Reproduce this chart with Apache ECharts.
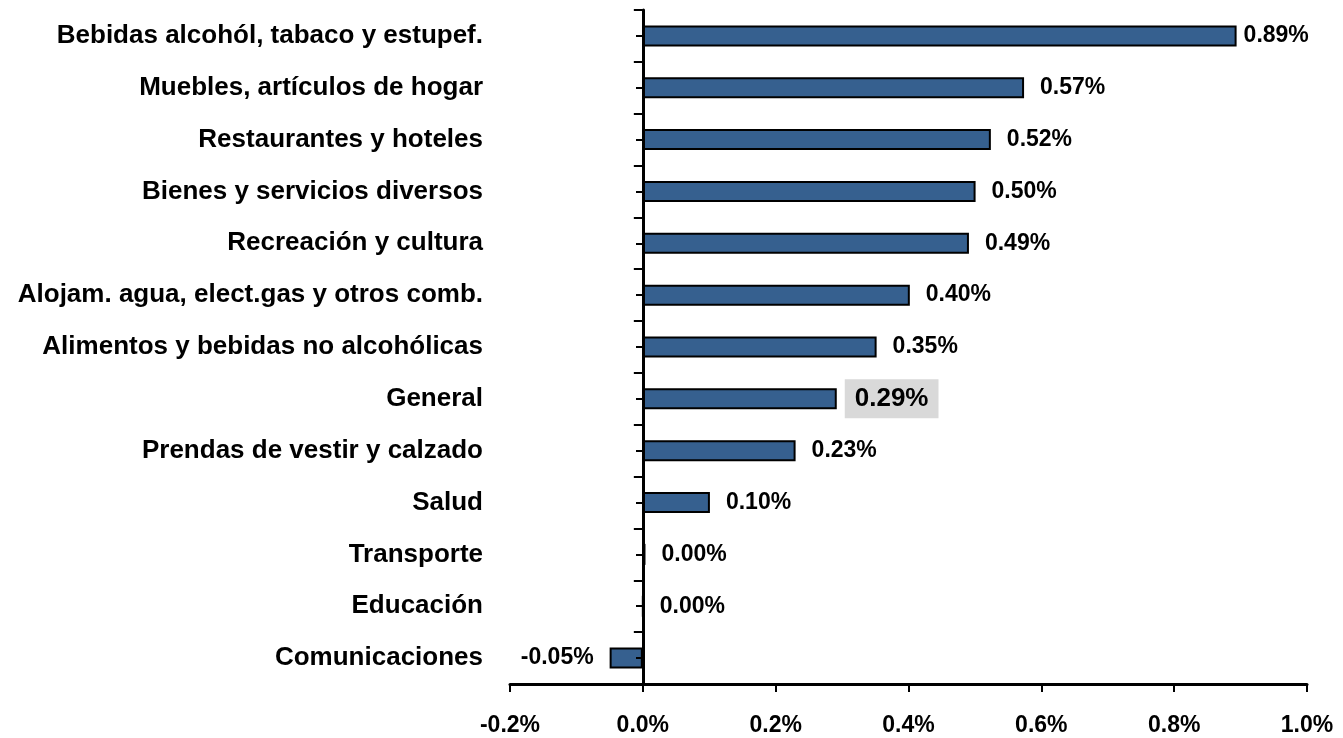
<!DOCTYPE html>
<html>
<head>
<meta charset="utf-8">
<script src="https://cdn.jsdelivr.net/npm/echarts@6/dist/echarts.min.js"></script>
<style>
  html, body { margin: 0; padding: 0; background: #fff; }
  #chart { width: 1343px; height: 738px; }
</style>
</head>
<body>
<div id="chart"></div>
<script>
// categories, top to bottom
const categories = [
  'Bebidas alcohól, tabaco y estupef.',
  'Muebles, artículos de hogar',
  'Restaurantes y hoteles',
  'Bienes y servicios diversos',
  'Recreación y cultura',
  'Alojam. agua, elect.gas y otros comb.',
  'Alimentos y bebidas no alcohólicas',
  'General',
  'Prendas de vestir y calzado',
  'Salud',
  'Transporte',
  'Educación',
  'Comunicaciones'
];
// variation in %
const values = [0.894, 0.574, 0.524, 0.501, 0.491, 0.402, 0.352, 0.292, 0.230, 0.101, 0.004, 0.000, -0.050];
const xMin = -0.2, xMax = 1.0, xStep = 0.2;

const FONT = '"Liberation Sans", Arial, sans-serif';
const gridLeft = 510, gridRight = 36;
const chart = echarts.init(document.getElementById('chart'));

// distance from grid left edge to the zero line, for the center ticks axis
const plotW = 1343 - gridLeft - gridRight;
const zeroOffset = Math.round((0 - xMin) / (xMax - xMin) * plotW);

const barData = values.map((v, i) => {
  let item = {value: v};
  if (categories[i] === 'General') {
    item.label = {
      fontSize: 26,
      backgroundColor: '#d9d9d9',
      padding: [7, 10, 6, 10],
      distance: 8
    };
  } else if (i === 0) {
    item.label = {distance: 7};
  } else if (v < 0) {
    item.label = {position: 'left'};
  }
  return item;
});

chart.setOption({
  animation: false,
  grid: {
    left: gridLeft,
    right: gridRight,
    top: 10,
    bottom: 54,
    outerBoundsMode: 'none'
  },
  xAxis: {
    type: 'value',
    min: xMin,
    max: xMax,
    interval: xStep,
    splitLine: {show: false},
    axisLine: {show: true, lineStyle: {color: '#000', width: 3}},
    axisTick: {show: true, length: 8, lineStyle: {color: '#000', width: 2}},
    axisLabel: {
      margin: 30,
      color: '#000',
      fontFamily: FONT,
      fontWeight: 'bold',
      fontSize: 23,
      formatter: v => v.toFixed(1) + '%'
    }
  },
  yAxis: [
    {
      // labels at the left edge of the plot
      type: 'category',
      data: categories,
      inverse: true,
      position: 'left',
      axisLine: {show: false, onZero: false},
      axisTick: {show: false},
      axisLabel: {
        margin: 27,
        color: '#000',
        fontFamily: FONT,
        fontWeight: 'bold',
        fontSize: 26
      }
    },
    {
      // axis line at 0 with ticks between categories
      type: 'category',
      data: categories,
      inverse: true,
      position: 'left',
      axisLine: {show: true, onZero: true, lineStyle: {color: '#000', width: 3}},
      axisTick: {show: true, length: 9, lineStyle: {color: '#000', width: 2}},
      axisLabel: {show: false},
      z: 3
    },
    {
      // short ticks at category centers
      type: 'category',
      data: categories,
      inverse: true,
      position: 'left',
      offset: -zeroOffset,
      axisLine: {show: false, onZero: false},
      axisTick: {show: true, alignWithLabel: true, length: 7, lineStyle: {color: '#000', width: 2}},
      axisLabel: {show: false},
      z: 3
    }
  ],
  series: [{
    type: 'bar',
    yAxisIndex: 0,
    data: barData,
    barWidth: 21,
    itemStyle: {color: '#36608f', borderColor: '#000', borderWidth: 2},
    label: {
      show: true,
      position: 'right',
      distance: 16,
      color: '#000',
      fontFamily: FONT,
      fontWeight: 'bold',
      fontSize: 23,
      formatter: p => p.value.toFixed(2) + '%'
    },
    z: 1
  }]
});
</script>
</body>
</html>
